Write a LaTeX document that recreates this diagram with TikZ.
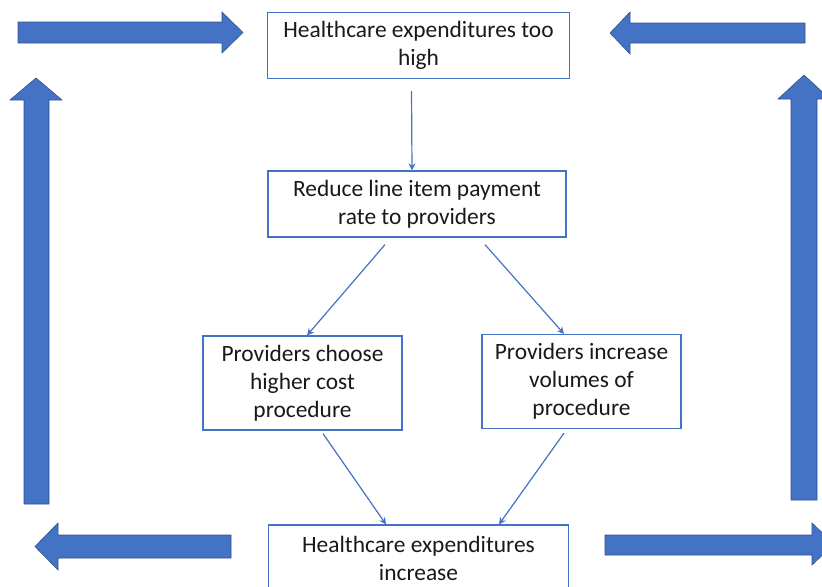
\documentclass[tikz,border=0pt]{standalone}
\usepackage{fontspec}
\setmainfont{Carlito}
\usetikzlibrary{arrows.meta}
\definecolor{boxblue}{RGB}{68,114,196}
\definecolor{edgeblue}{RGB}{47,82,143}
\tikzset{
    stepbox/.style={draw=boxblue,line width=0.6pt,align=center,inner sep=0pt,
        font=\fontsize{11.7}{14}\selectfont,text=black!90},
    link/.style={draw=boxblue,line width=0.6pt,-{Stealth[length=3.5pt,width=3.5pt]}},
    bigarrow/.style={fill=boxblue,draw=edgeblue,line width=0.3pt}
}
\begin{document}
\begin{tikzpicture}[x=0.5pt,y=-0.5pt]
        \useasboundingbox (0,0) rectangle (822,586);
        % boxes
        \node[stepbox,minimum width=151pt,minimum height=33pt] (high) at (418.5,45.5) {Healthcare expenditures too\\high};
        \node[stepbox,minimum width=149pt,minimum height=33pt] (rate) at (417,204) {Reduce line item payment\\rate to providers};
        \node[stepbox,minimum width=99.5pt,minimum height=47pt] (choose) at (302.5,383) {Providers choose\\higher cost\\procedure};
        \node[stepbox,minimum width=99.5pt,minimum height=47pt] (volume) at (581.5,381.5) {Providers increase\\volumes of\\procedure};
        \node[stepbox,minimum width=150pt,minimum height=33pt] (increase) at (418.5,558) {Healthcare expenditures\\increase};
        % thin arrows
        \draw[link] ([shift={(-7,12)}]high.south) -- ([xshift=-2.5pt]rate.north);
        \draw[link] ([shift={(-32,7)}]rate.south) -- ([xshift=2.25pt]choose.north);
        \draw[link] ([shift={(68,7)}]rate.south) -- ([xshift=-8.75pt]volume.north);
        \draw[link] ([shift={(20.5,3)}]choose.south) -- ([xshift=-16.25pt]increase.north);
        \draw[link] ([shift={(-17.5,4)}]volume.south) -- ([xshift=40.25pt]increase.north);
        % big block arrows round the loop
        \draw[bigarrow] (18,22) -- (222,22) -- (222,12) -- (243,32.5) -- (222,53) -- (222,43) -- (18,43) -- cycle;
        \draw[bigarrow] (805,23) -- (630,23) -- (630,12) -- (610,33) -- (630,54) -- (630,43) -- (805,43) -- cycle;
        \draw[bigarrow] (24,504) -- (24,100) -- (10,100) -- (36,78) -- (62,100) -- (49,100) -- (49,504) -- cycle;
        \draw[bigarrow] (791,500) -- (791,99) -- (778,99) -- (804,75) -- (830,99) -- (817,99) -- (817,500) -- cycle;
        \draw[bigarrow] (231,535) -- (58,535) -- (58,523) -- (35,546.5) -- (58,570) -- (58,558) -- (231,558) -- cycle;
        \draw[bigarrow] (605,535) -- (812,535) -- (812,523) -- (834,544) -- (812,565) -- (812,555) -- (605,555) -- cycle;
\end{tikzpicture}
\end{document}
